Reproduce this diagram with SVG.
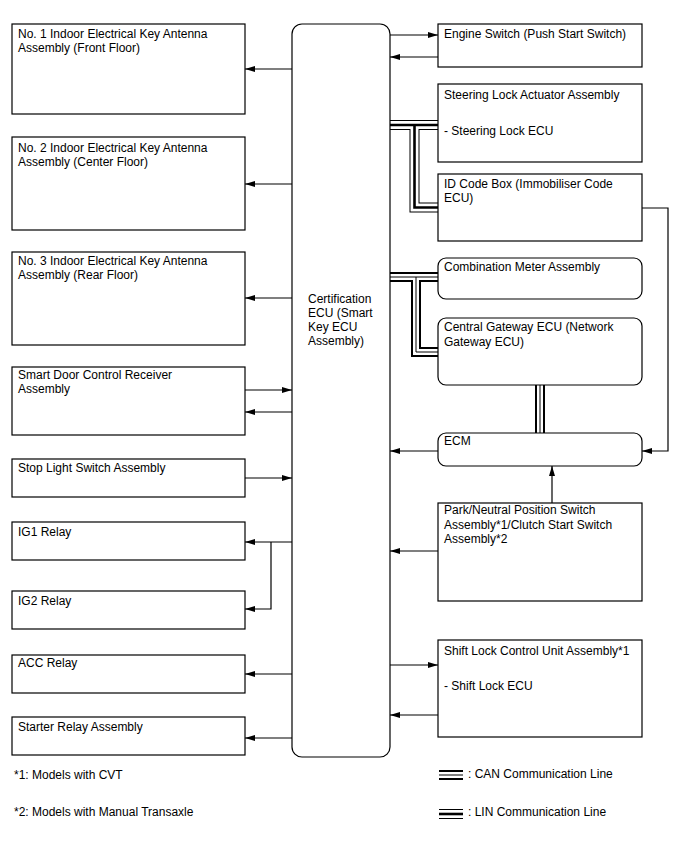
<svg xmlns="http://www.w3.org/2000/svg" width="688" height="852" viewBox="0 0 688 852">
<defs>
<marker id="ah" viewBox="0 0 10 6" refX="10" refY="3" markerWidth="10" markerHeight="6" markerUnits="userSpaceOnUse" orient="auto">
<path d="M0,0 L10,3 L0,6 Z" fill="#000"/>
</marker>
</defs>
<style>
.box{fill:#fff;stroke:#000;stroke-width:1.2}
text{font-family:"Liberation Sans",Arial,sans-serif;font-size:12px;fill:#000}
.ln{fill:none;stroke:#000;stroke-width:1.2;marker-end:url(#ah)}
.b1{fill:none;stroke:#000;stroke-width:10}
.linw{fill:none;stroke:#fff;stroke-width:8}
.linc{fill:none;stroke:#000;stroke-width:2.6}
.canw{fill:none;stroke:#fff;stroke-width:6}
.canc{fill:none;stroke:#000;stroke-width:1}
</style>
<rect width="688" height="852" fill="#fff"/>

<g id="connectors">
<g id="lin-bus">
<path class="b1" d="M390,125 H438 M414.5,125 V207.5 H438"/>
<path class="linw" d="M390,125 H438 M414.5,125 V207.5 H438"/>
<path class="linc" d="M390,125 H438 M414.5,125 V207.5 H438"/>
</g>
<g id="can-bus">
<path class="b1" d="M390,277 H438 M416,277 V352 H438 M540,385 V433"/>
<path class="canw" d="M390,277 H438 M416,277 V352 H438 M540,385 V433"/>
<path class="canc" d="M390,277 H438 M416,277 V352 H438 M540,385 V433"/>
</g>
<path class="ln" d="M292,69 H245"/>
<path class="ln" d="M292,184 H245"/>
<path class="ln" d="M292,298 H245"/>
<path class="ln" d="M245,390 H292"/>
<path class="ln" d="M292,412 H245"/>
<path class="ln" d="M245,478 H292"/>
<path class="ln" d="M292,542 H245"/>
<path class="ln" d="M271,542 V609 H245"/>
<path class="ln" d="M292,674 H245"/>
<path class="ln" d="M292,738 H245"/>
<path class="ln" d="M390,35 H438"/>
<path class="ln" d="M438,57 H390"/>
<path class="ln" d="M438,451 H390"/>
<path class="ln" d="M642,208 H668 V451 H642"/>
<path class="ln" d="M552,503 V466"/>
<path class="ln" d="M438,551 H390"/>
<path class="ln" d="M390,665 H438"/>
<path class="ln" d="M438,715 H390"/>
</g>

<g id="n-ant1"><rect class="box" x="12" y="24" width="233" height="90"/><text x="18" y="38">No. 1 Indoor Electrical Key Antenna</text><text x="18" y="52">Assembly (Front Floor)</text></g>
<g id="n-ant2"><rect class="box" x="12" y="137" width="233" height="93"/><text x="18" y="152">No. 2 Indoor Electrical Key Antenna</text><text x="18" y="166">Assembly (Center Floor)</text></g>
<g id="n-ant3"><rect class="box" x="12" y="252" width="233" height="93"/><text x="18" y="265">No. 3 Indoor Electrical Key Antenna</text><text x="18" y="279">Assembly (Rear Floor)</text></g>
<g id="n-door"><rect class="box" x="12" y="367" width="233" height="68"/><text x="18" y="379">Smart Door Control Receiver</text><text x="18" y="393">Assembly</text></g>
<g id="n-stop"><rect class="box" x="12" y="459" width="233" height="38"/><text x="18" y="472">Stop Light Switch Assembly</text></g>
<g id="n-ig1"><rect class="box" x="12" y="522" width="233" height="38"/><text x="18" y="536">IG1 Relay</text></g>
<g id="n-ig2"><rect class="box" x="12" y="591" width="233" height="38"/><text x="18" y="605">IG2 Relay</text></g>
<g id="n-acc"><rect class="box" x="12" y="655" width="233" height="38"/><text x="18" y="667">ACC Relay</text></g>
<g id="n-starter"><rect class="box" x="12" y="717" width="233" height="38"/><text x="18" y="731">Starter Relay Assembly</text></g>

<g id="n-ecu"><rect class="box" x="292" y="24" width="98" height="733" rx="10"/><text x="308" y="303">Certification</text><text x="308" y="317">ECU (Smart</text><text x="308" y="331">Key ECU</text><text x="308" y="345">Assembly)</text></g>

<g id="n-engine"><rect class="box" x="438" y="24" width="204" height="43"/><text x="444" y="38">Engine Switch (Push Start Switch)</text></g>
<g id="n-steer"><rect class="box" x="438" y="84" width="204" height="78"/><text x="444" y="99">Steering Lock Actuator Assembly</text><text x="444" y="135">- Steering Lock ECU</text></g>
<g id="n-idcode"><rect class="box" x="438" y="174" width="204" height="67"/><text x="444" y="188">ID Code Box (Immobiliser Code</text><text x="444" y="202">ECU)</text></g>
<g id="n-meter"><rect class="box" x="438" y="258" width="204" height="41" rx="8"/><text x="444" y="271">Combination Meter Assembly</text></g>
<g id="n-gateway"><rect class="box" x="438" y="318" width="204" height="67" rx="8"/><text x="444" y="331">Central Gateway ECU (Network</text><text x="444" y="346">Gateway ECU)</text></g>
<g id="n-ecm"><rect class="box" x="438" y="433" width="204" height="33" rx="8"/><text x="444" y="445">ECM</text></g>
<g id="n-park"><rect class="box" x="438" y="503" width="204" height="98"/><text x="444" y="514">Park/Neutral Position Switch</text><text x="444" y="529">Assembly*1/Clutch Start Switch</text><text x="444" y="543">Assembly*2</text></g>
<g id="n-shift"><rect class="box" x="438" y="640" width="204" height="97"/><text x="444" y="655">Shift Lock Control Unit Assembly*1</text><text x="444" y="690">- Shift Lock ECU</text></g>

<g id="legend">
<text x="14" y="779">*1: Models with CVT</text>
<text x="14" y="816">*2: Models with Manual Transaxle</text>
<path class="b1" d="M439,775 H463"/><path class="canw" d="M439,775 H463"/><path class="canc" d="M439,775 H463"/>
<text x="468" y="778">: CAN Communication Line</text>
<path class="b1" d="M439,814 H463"/><path class="linw" d="M439,814 H463"/><path class="linc" d="M439,814 H463"/>
<text x="468" y="816">: LIN Communication Line</text>
</g>
</svg>
